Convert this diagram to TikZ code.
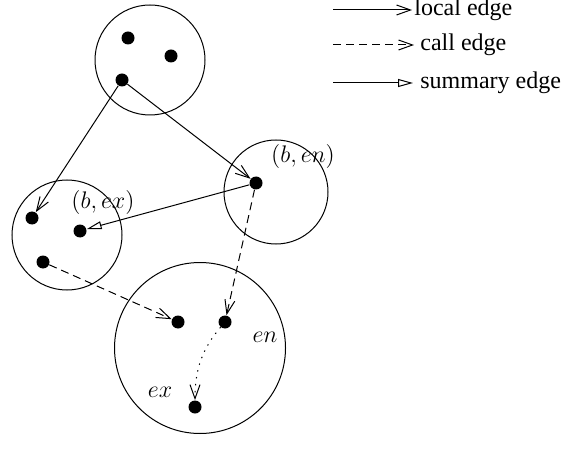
\documentclass[tikz,border=0pt]{standalone}
\usepackage{fontspec}
\setmainfont{Liberation Serif}
\usepackage{tikz}
\usetikzlibrary{arrows.meta}
\tikzset{
  proc/.style={draw, circle, line width=0.5pt, inner sep=0pt},
  vtx/.style={circle, fill=black, inner sep=0pt, minimum size=6.5pt},
  local/.style={line width=0.5pt, -{Straight Barb[length=7pt, width=5pt]}},
  call/.style={local, dash pattern=on 4pt off 2.5pt},
  summary/.style={line width=0.5pt, -{Triangle[open, length=7.5pt, width=4pt]}},
  intra/.style={local, dash pattern=on 0.7pt off 2.8pt},
  lbl/.style={font=\fontsize{12}{14}\selectfont, inner sep=1pt}
}
\begin{document}
\begin{tikzpicture}[x=0.5pt, y=-0.5pt]
\useasboundingbox (0,0) rectangle (576,448);
% procedures
\node[proc, minimum size=55pt] (pMain) at (150,60) {};
\node[proc, minimum size=55pt] (pLeft) at (67,235) {};
\node[proc, minimum size=52pt] (pRight) at (276,192) {};
\node[proc, minimum size=85.5pt] (pCallee) at (200,348) {};
% vertices
\node[vtx] (m1) at (128,38) {};
\node[vtx] (m2) at (171,56) {};
\node[vtx] (m3) at (122,80) {};
\node[vtx] (l1) at (32,218) {};
\node[vtx] (l2) at (80,231) {};
\node[vtx] (l3) at (43,262) {};
\node[vtx] (r1) at (256,183) {};
\node[vtx] (c1) at (178,322) {};
\node[vtx] (c2) at (225,322) {};
\node[vtx] (c3) at (195,407) {};
% labels
\node[lbl] (tBex) at (103,203) {$(b,ex)$};
\node[lbl] (tBen) at (303,157) {$(b,en)$};
\node[lbl] (tEn) at (265,337) {$en$};
\node[lbl] (tEx) at (160,392) {$ex$};
% edges
\draw[local] (m3) -- (l1);
\draw[local] (m3) -- (r1);
\draw[summary] (r1) -- (l2);
\draw[call] (r1) -- (c2);
\draw[call] (l3) -- (c1);
\draw[intra] (c2) .. controls (203,348) and (195,368) .. (c3);
% legend
\node[lbl, anchor=west] (lgLocal) at (412,10) {local edge};
\node[lbl, anchor=west] (lgCall) at (418,45) {call edge};
\node[lbl, anchor=west] (lgSum) at (418,83) {summary edge};
\coordinate (sLocal) at (333,10);
\coordinate (sCall) at (333,45);
\coordinate (sSum) at (333,83);
\draw[local] (sLocal) -- (lgLocal.west);
\draw[call, shorten >=2pt] (sCall) -- (lgCall.west);
\draw[summary, shorten >=2.5pt] (sSum) -- (lgSum.west);
\end{tikzpicture}
\end{document}
